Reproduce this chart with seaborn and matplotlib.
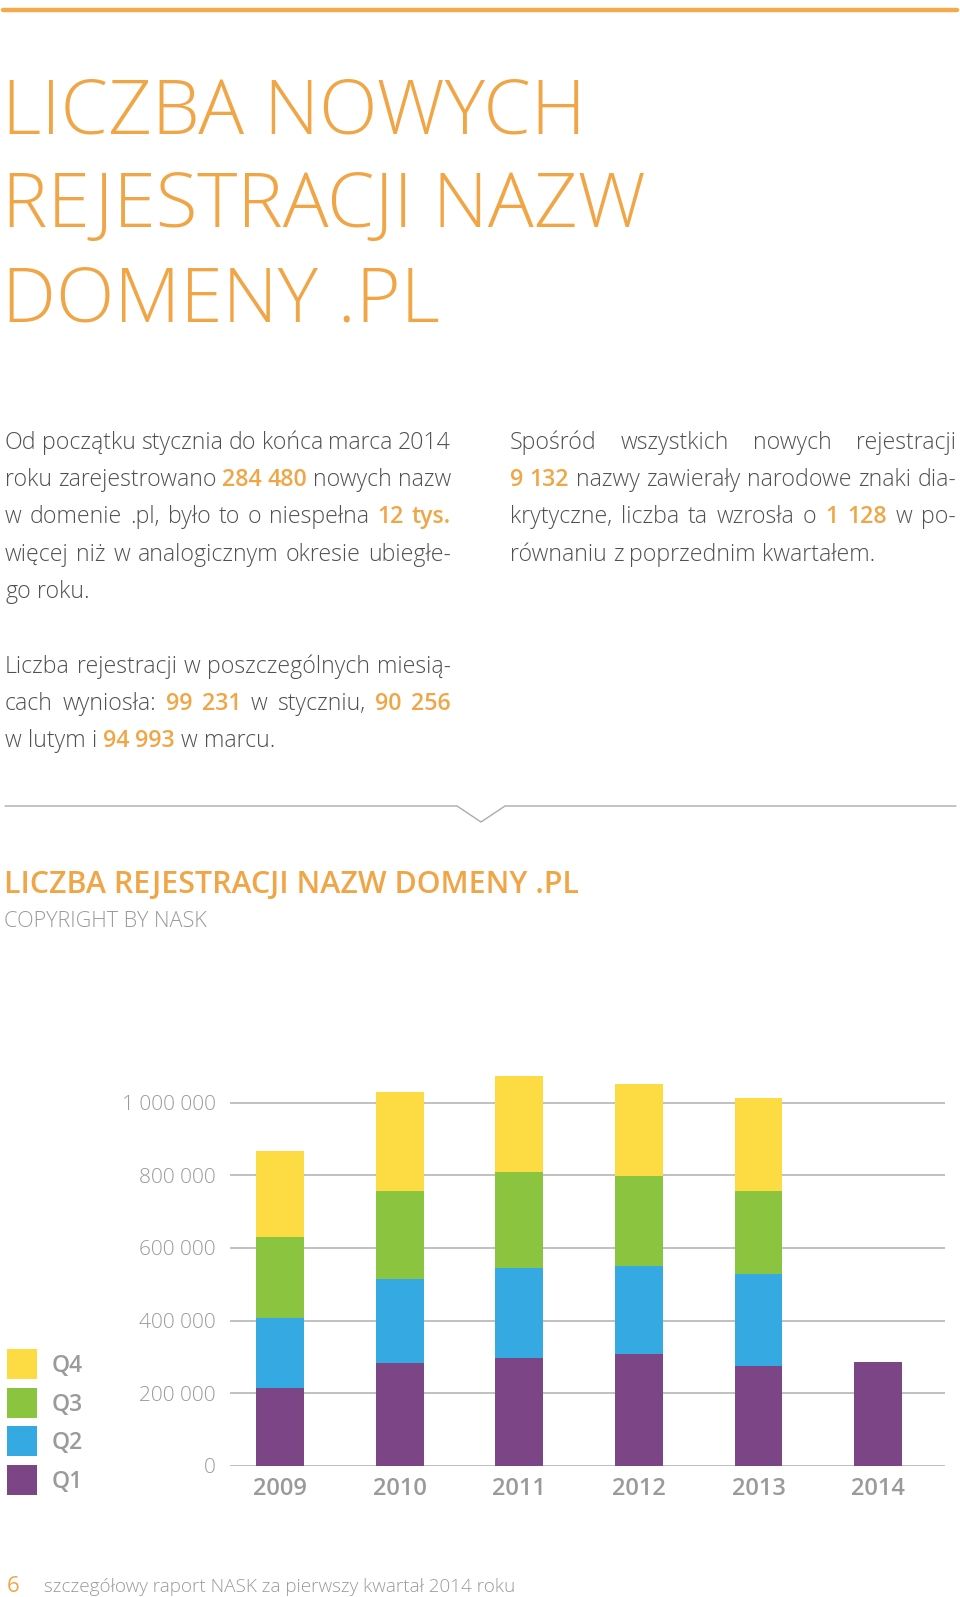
import matplotlib
matplotlib.use("Agg")
import matplotlib.pyplot as plt
import seaborn as sns
import pandas as pd
import numpy as np
from matplotlib.patches import Rectangle
from matplotlib.lines import Line2D

# data
years = ["2009", "2010", "2011", "2012", "2013", "2014"]
q1 = [215000, 283000, 297000, 308000, 275000, 284480]
q2 = [193000, 231000, 247000, 241000, 252000, 0]
q3 = [222000, 244000, 265000, 250000, 231000, 0]
q4 = [237000, 271000, 265000, 252000, 254000, 0]
quarters = ["Q1", "Q2", "Q3", "Q4"]
colors = {"Q1": "#7B4586", "Q2": "#35A9E1", "Q3": "#8BC53F", "Q4": "#FDDC43"}
yticks = [0, 200000, 400000, 600000, 800000, 1000000]

ORANGE = "#F0A646"
GRAY = "#9a9a9a"
BODY = "#505050"
FONT = "Open Sans"

W, H = 960, 1597
sns.set_theme(style="white")
plt.rcParams["font.family"] = [FONT, "DejaVu Sans"]

fig = plt.figure(figsize=(W / 100, H / 100), dpi=100)
renderer = fig.canvas.get_renderer()


def fx(x):
    return x / W


def fy(y):
    return 1 - y / H


def put(x, y, s, **kw):
    return fig.text(fx(x), fy(y), s, va="baseline", **kw)


def width_of(t):
    return t.get_window_extent(renderer).width


def draw_line(words, x0, x1, y, size, justify=True):
    # words: list of (text, highlighted)
    arts = []
    for w, hl in words:
        arts.append(put(0, y, w, fontsize=size,
                        color=ORANGE if hl else BODY,
                        weight="semibold" if hl else "light"))
    ws = [width_of(a) for a in arts]
    probe1 = put(0, y, "a a", fontsize=size, weight="light")
    probe2 = put(0, y, "aa", fontsize=size, weight="light")
    space = width_of(probe1) - width_of(probe2)
    probe1.remove()
    probe2.remove()
    if justify and len(arts) > 1:
        gap = (x1 - x0 - sum(ws)) / (len(arts) - 1)
    else:
        gap = space
    x = x0
    for a, w in zip(arts, ws):
        a.set_position((fx(x), fy(y)))
        x += w + gap


def parse(line):
    out = []
    for tok in line.split(" "):
        if tok.startswith("*"):
            out.append((tok.strip("*"), True))
        else:
            out.append((tok, False))
    return out


# top rule
fig.add_artist(Line2D([fx(3), fx(957)], [fy(10), fy(10)], color="#F4A94B", lw=3.2))

# big title
for i, s in enumerate(["LICZBA NOWYCH", "REJESTRACJI NAZW", "DOMENY .PL"]):
    put(2, 133 + i * 94, s, fontsize=55, color=ORANGE, weight="light")

BS = 16.7
left_par = [
    "Od początku stycznia do końca marca 2014",
    "roku zarejestrowano *284* *480* nowych nazw",
    "w domenie .pl, było to o niespełna *12* *tys.*",
    "więcej niż w analogicznym okresie ubiegłe-",
    "go roku.",
]
right_par = [
    "Spośród wszystkich nowych rejestracji",
    "*9* *132* nazwy zawierały narodowe znaki dia-",
    "krytyczne, liczba ta wzrosła o *1* *128* w po-",
    "równaniu z poprzednim kwartałem.",
]
third_par = [
    "Liczba rejestracji w poszczególnych miesią-",
    "cach wyniosła: *99* *231* w styczniu, *90* *256*",
    "w lutym i *94* *993* w marcu.",
]
for i, s in enumerate(left_par):
    draw_line(parse(s), 5, 451, 449 + i * 37.2, BS, justify=i < len(left_par) - 1)
for i, s in enumerate(right_par):
    draw_line(parse(s), 510, 956, 449 + i * 37.2, BS, justify=i < len(right_par) - 1)
for i, s in enumerate(third_par):
    draw_line(parse(s), 5, 451, 673 + i * 37.2, BS, justify=i < len(third_par) - 1)

# divider with notch
fig.add_artist(Line2D([fx(5), fx(457), fx(481), fx(505), fx(956)],
                      [fy(806), fy(806), fy(822), fy(806), fy(806)],
                      color="#ababab", lw=1.0))

# chart title
put(4, 893, "LICZBA REJESTRACJI NAZW DOMENY .PL", fontsize=21.9, color=ORANGE, weight="semibold")
put(4, 927, "COPYRIGHT BY NASK", fontsize=15.6, color=GRAY, weight="light")

# chart
y0, y1m = 1465.7, 1102.7
ymax = 1120000
top_px = y0 - (y0 - y1m) * ymax / 1e6
ax = fig.add_axes([fx(230), fy(y0), fx(945) - fx(230), (y0 - top_px) / H])

df = pd.DataFrame({"year": years, "Q1": q1, "Q2": q2, "Q3": q3, "Q4": q4})
cum = df[quarters].cumsum(axis=1)
for q in reversed(quarters):
    sns.barplot(x=df["year"], y=cum[q], color=colors[q], width=0.4,
                saturation=1, ax=ax, zorder=3, linewidth=0)

ax.set_ylim(0, ymax)
ax.set_xlim(-0.42, 5.56)
ax.set_yticks(yticks)
ax.set_yticklabels([f"{v:,}".replace(",", " ") for v in yticks],
                   fontsize=15, color=GRAY, fontweight="light")
ax.set_xticklabels(years, fontsize=17, color=GRAY, fontweight="semibold")
ax.tick_params(axis="y", length=0, pad=10)
ax.tick_params(axis="x", length=0, pad=8)
ax.set_xlabel("")
ax.set_ylabel("")
ax.yaxis.grid(True, color="#b5b5b5", lw=1.2, zorder=0)
ax.xaxis.grid(False)
ax.set_axisbelow(True)
sns.despine(ax=ax, left=True, bottom=True)

# legend
for i, q in enumerate(reversed(quarters)):
    ytop = 1349 + i * 38.6
    fig.add_artist(Rectangle((fx(7), fy(ytop + 30)), fx(30), 30 / H,
                             color=colors[q], lw=0))
    fig.text(fx(52), fy(ytop + 17), q, fontsize=16.5, color=GRAY,
             weight="semibold", va="center")

# footer
put(7, 1592, "6", fontsize=16, color=ORANGE, weight="normal")
put(44, 1592, "szczegółowy raport NASK za pierwszy kwartał 2014 roku",
    fontsize=13.6, color=GRAY, weight="light")

fig.savefig("out.png", dpi=100, facecolor="white")
